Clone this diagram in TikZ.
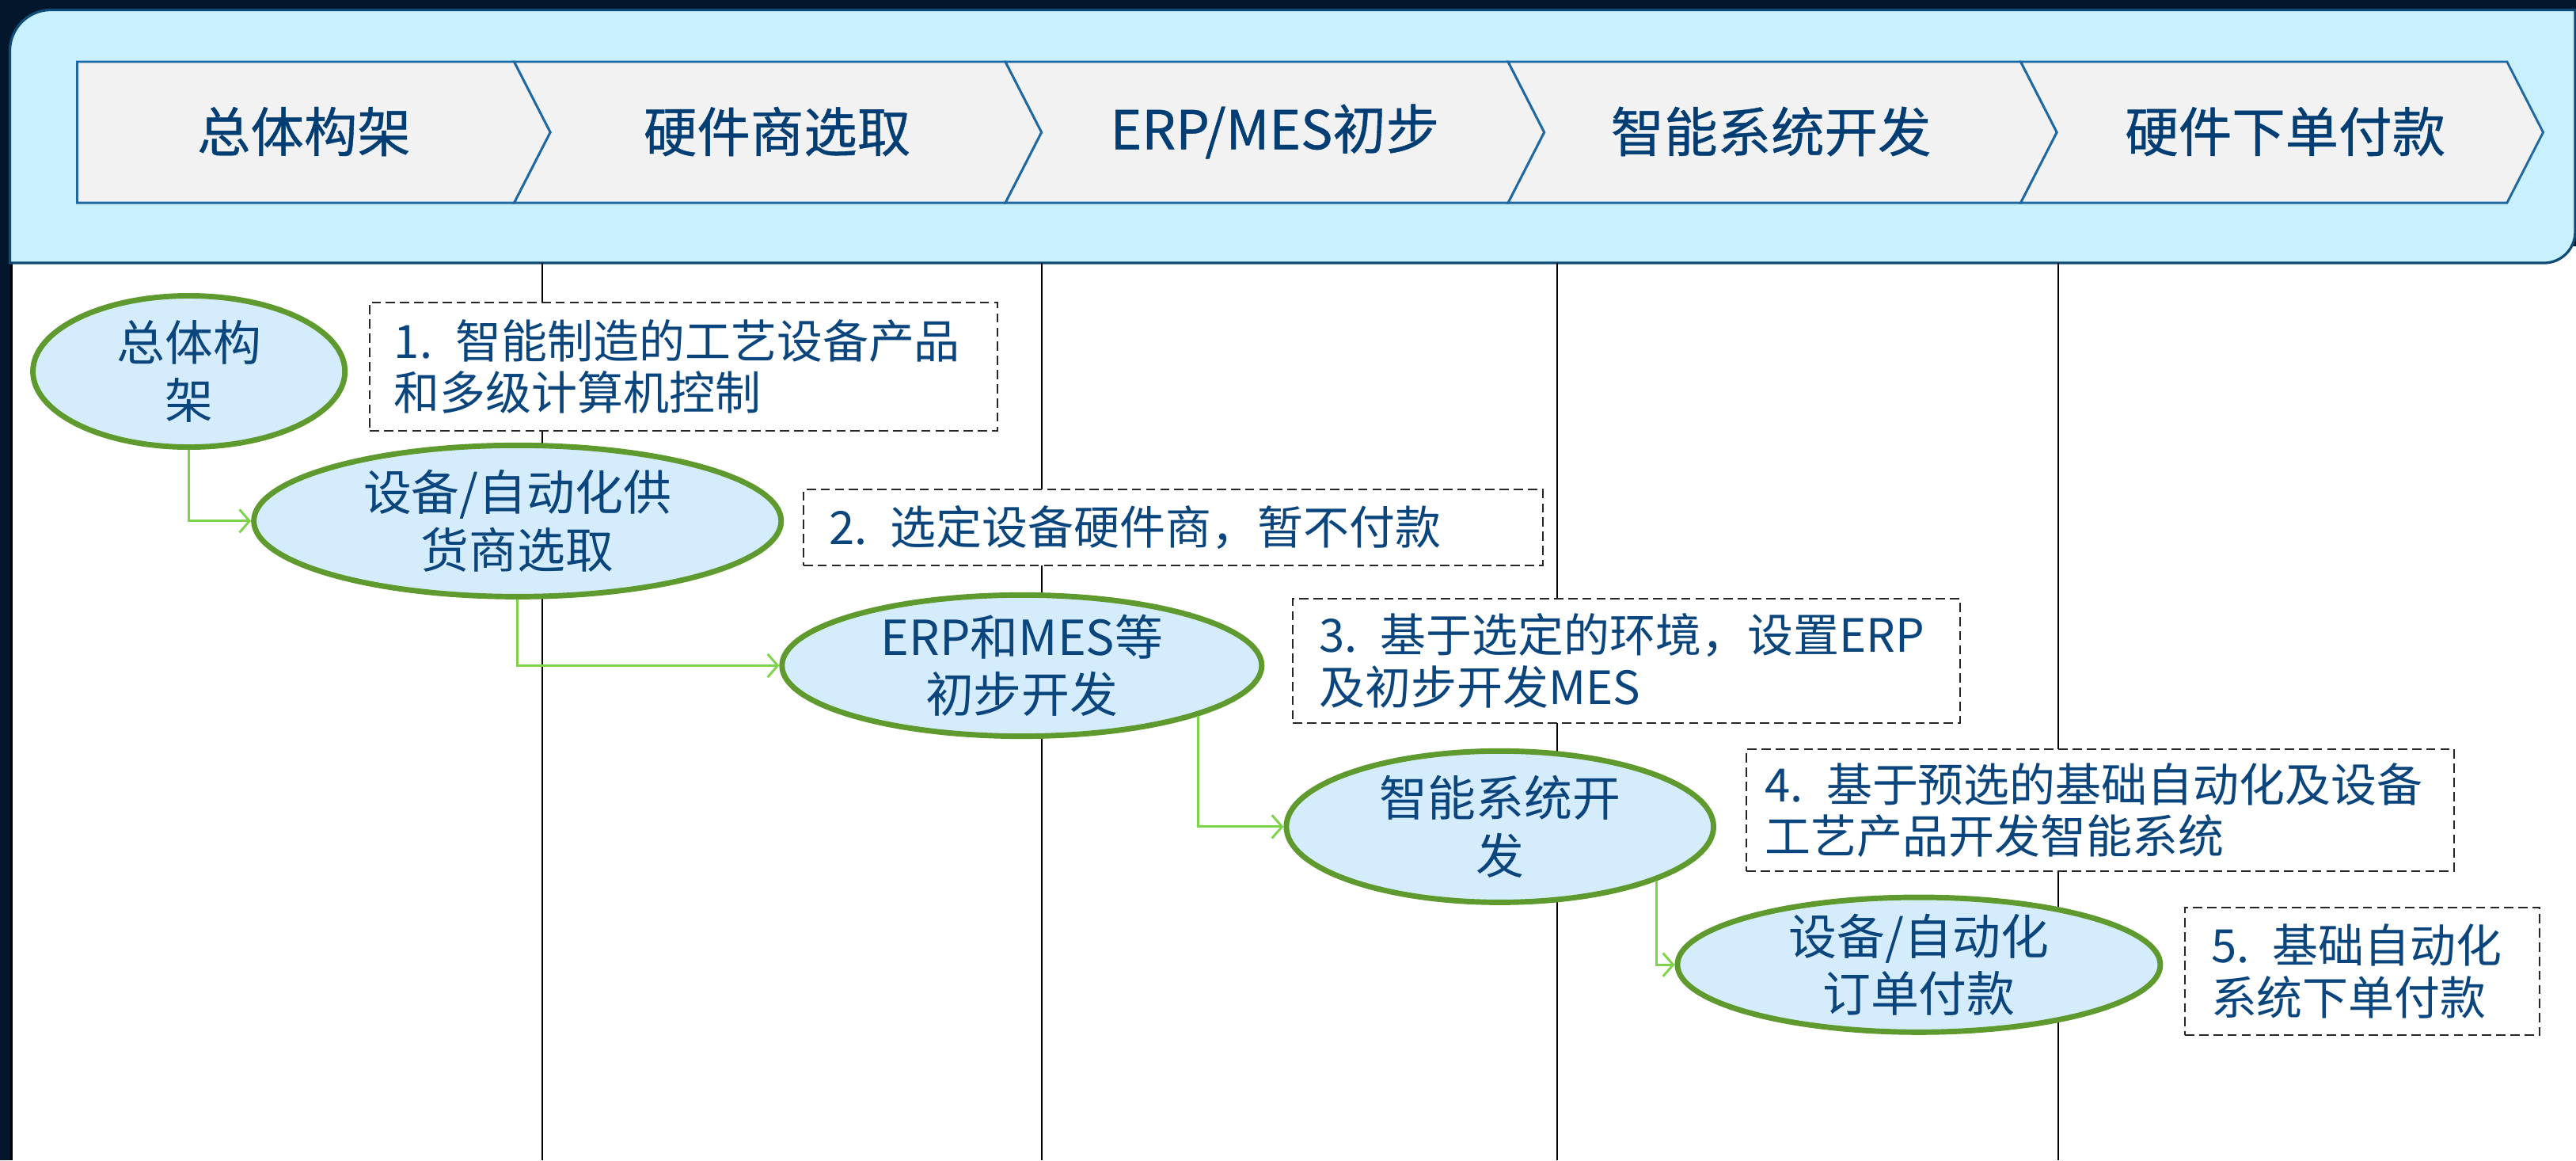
\documentclass[tikz,border=0pt]{standalone}
\usepackage{fontspec}
\setmainfont{Noto Sans CJK SC}
\newfontfamily\headfont[FakeBold=0.6]{Noto Sans CJK SC}
\usetikzlibrary{shapes.geometric,arrows.meta}
\definecolor{bgdark}{HTML}{03162B}
\definecolor{panelfill}{HTML}{C9F0FE}
\definecolor{panelline}{HTML}{0E4C75}
\definecolor{chevfill}{HTML}{F2F2F2}
\definecolor{chevline}{HTML}{2068A2}
\definecolor{headtext}{HTML}{023E74}
\definecolor{ellfill}{HTML}{D5ECFC}
\definecolor{ellline}{HTML}{5E9A2E}
\definecolor{arrowgreen}{HTML}{7DD44B}
\definecolor{bodytext}{HTML}{0A457D}
\definecolor{dashline}{HTML}{262626}
\tikzset{
  chev/.style={draw=chevline, fill=chevfill, line width=0.8pt, line join=miter},
  headlbl/.style={text=headtext, font=\headfont\fontsize{18.5}{21}\selectfont, inner sep=0pt},
  vline/.style={draw=black, line width=0.6pt},
  ell/.style={ellipse, draw=ellline, fill=ellfill, line width=1.9pt, inner sep=0pt},
  elltext/.style={text=bodytext, align=center, inner sep=0pt, font=\fontsize{16.7}{19.9}\selectfont},
  dbox/.style={rectangle, draw=dashline, fill=white, line width=0.55pt,
    dash pattern=on 3.2pt off 1.7pt, align=left, text=bodytext,
    inner ysep=0pt, font=\fontsize{15.9}{17.9}\selectfont},
  garrow/.style={draw=arrowgreen, line width=0.8pt, -{Straight Barb[length=3.5pt,width=8pt]}}
}
\begin{document}
\begin{tikzpicture}[x=0.02cm,y=-0.02cm]
\useasboundingbox (0,0) rectangle (1568,706);
% background
\fill[bgdark] (0,0) rectangle (1568,706);
% white body
\fill[white] (7,150) rectangle (1568,706);
\draw[black, line width=0.8pt] (7,160) -- (7,706);
% header panel
\filldraw[fill=panelfill, draw=panelline, line width=0.9pt]
  (6,160) -- (6,31) .. controls (6,17.2) and (17.2,6) .. (31,6)
  -- (1567.5,6) -- (1567.5,141) .. controls (1567.5,151.5) and (1559,160) .. (1548.5,160) -- cycle;
% chevrons
\path[chev] (47,37.6) -- (313,37.6) -- (335,80.5) -- (313,123.4) -- (47,123.4) -- cycle;
\path[chev] (313,37.6) -- (612,37.6) -- (634,80.5) -- (612,123.4) -- (313,123.4) -- (335,80.5) -- cycle;
\path[chev] (612,37.6) -- (918,37.6) -- (940,80.5) -- (918,123.4) -- (612,123.4) -- (634,80.5) -- cycle;
\path[chev] (918,37.6) -- (1230,37.6) -- (1252,80.5) -- (1230,123.4) -- (918,123.4) -- (940,80.5) -- cycle;
\path[chev] (1230,37.6) -- (1526,37.6) -- (1548,80.5) -- (1526,123.4) -- (1230,123.4) -- (1252,80.5) -- cycle;
\node[headlbl] (c1) at (185,80) {总体构架};
\node[headlbl] (c2) at (473,80) {硬件商选取};
\node[headlbl] (c3) at (776,80) {ERP/MES初步};
\node[headlbl] (c4) at (1078,80) {智能系统开发};
\node[headlbl] (c5) at (1391,80) {硬件下单付款};
% lane dividers
\draw[vline] (330,160) -- (330,706);
\draw[vline] (634,160) -- (634,706);
\draw[vline] (948,160) -- (948,706);
\draw[vline] (1253,160) -- (1253,706);
% dashed notes
\node[dbox, minimum width=217.4pt, minimum height=44.4pt, inner xsep=8.5pt, text width=200.4pt] (b1) at (416,223)
  {1. 智能制造的工艺设备产品\\和多级计算机控制};
\node[dbox, minimum width=256.1pt, minimum height=26.2pt, inner xsep=9pt, text width=238.1pt] (b2) at (714,321)
  {2. 选定设备硬件商，暂不付款};
\node[dbox, minimum width=231.0pt, minimum height=43.2pt, inner xsep=9pt, text width=213pt] (b3) at (990,402)
  {3. 基于选定的环境，设置ERP\\及初步开发MES};
\node[dbox, minimum width=245.3pt, minimum height=42.1pt, inner xsep=6.5pt, text width=232.3pt] (b4) at (1278.5,493)
  {4. 基于预选的基础自动化及设备\\工艺产品开发智能系统};
\node[dbox, minimum width=122.9pt, minimum height=44.4pt, inner xsep=9pt, text width=104.9pt] (b5) at (1438,591)
  {5. 基础自动化\\系统下单付款};
% ellipses
\node[ell, minimum width=108.1pt, minimum height=52.4pt] (e1) at (115,226) {};
\node[ell, minimum width=182.7pt, minimum height=52.4pt] (e2) at (315,317) {};
\node[ell, minimum width=166.2pt, minimum height=48.9pt] (e3) at (622,405) {};
\node[ell, minimum width=148.0pt, minimum height=52.4pt] (e4) at (913,503) {};
\node[ell, minimum width=167.3pt, minimum height=46.7pt] (e5) at (1168,587) {};
\node[elltext] (t1) at (e1.center) {总体构\\架};
\node[elltext] (t2) at (e2.center) {设备/自动化供\\货商选取};
\node[elltext] (t3) at (e3.center) {ERP和MES等\\初步开发};
\node[elltext] (t4) at (e4.center) {智能系统开\\发};
\node[elltext] (t5) at (e5.center) {设备/自动化\\订单付款};
% connectors
\draw[garrow] (e1.south) |- (e2.west);
\draw[garrow] (e2.south) |- (e3.west);
\draw[garrow] (e3.-16.8) |- (e4.west);
\draw[garrow] (e4.-19.5) |- (e5.west);
\end{tikzpicture}
\end{document}
